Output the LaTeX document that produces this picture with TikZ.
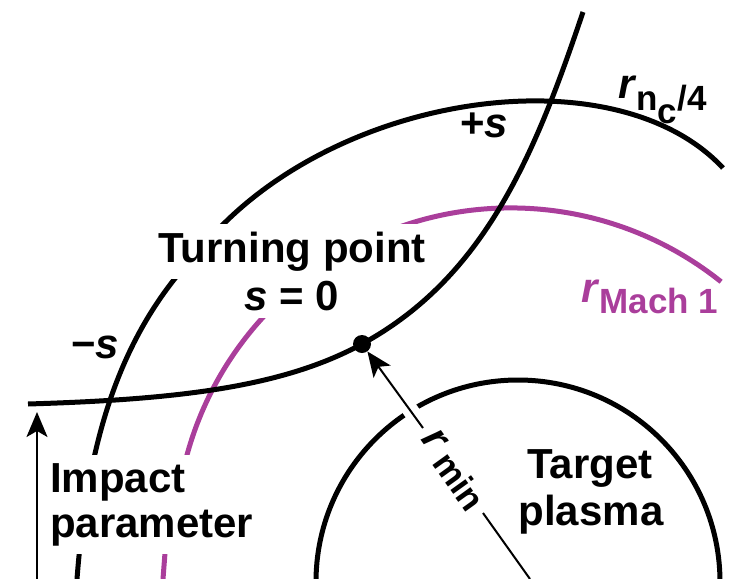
\documentclass[tikz,border=0pt]{standalone}
\usepackage{fontspec}
\setmainfont{Liberation Sans}
\usetikzlibrary{arrows.meta}
\definecolor{machpurple}{RGB}{170,62,155}
\newcommand{\bigfont}{\fontsize{42}{46}\selectfont\bfseries}
\newcommand{\subfont}{\fontsize{35}{38}\selectfont\bfseries}

\begin{document}
\begin{tikzpicture}[x=1pt, y=-1pt,
  every node/.style={font=\bigfont, inner sep=0pt},
  curve/.style={line width=5pt},
  machcurve/.style={line width=5pt, machpurple},
  knockout/.style={fill=white, inner sep=8pt},
  thinarrow/.style={line width=2pt, -{Stealth[length=25pt,width=21pt,inset=6pt]}},
  turndot/.style={circle, fill, minimum size=18pt}]
  \useasboundingbox (0,0) rectangle (732,579);
  \clip (0,0) rectangle (732,579);

  % target plasma
  \draw[curve] (518,582) circle[radius=202];

  % r_nc/4 surface
  \draw[curve] (77,579) .. controls (87,449) and (116,336) .. (200,250)
    .. controls (326,94) and (613,50) .. (723,168);

  % Mach 1 surface
  \draw[machcurve] (163,579) -- (166,540) -- (178.3,497.2)
    arc[start angle=188, end angle=308.7, radius=336];

  % ray path
  \draw[curve] (28,404) .. controls (178,399.5) and (282.8,387.2) .. (362,344)
    .. controls (485,277) and (535,154.5) .. (583,12);

  % coordinates
  \node[turndot] (turn) at (362,344) {};
  \coordinate (rminfoot) at (530,579);
  \coordinate (rminlow) at (483,513);
  \coordinate (rminhigh) at (423,428);
  \coordinate (gapa) at (418,421);
  \coordinate (gapb) at (404,401);
  \coordinate (impbase) at (37,579);
  \coordinate (imptop) at (37,412);

  % r_min radius
  \draw[white, line width=16pt] (gapa) -- (gapb);
  \draw[line width=2pt] (rminfoot) -- (rminlow);
  \draw[thinarrow] (rminhigh) -- (turn);

  % impact parameter
  \draw[thinarrow] (impbase) -- (imptop);

  % labels
  \node[anchor=base] (plus) at (484,137) {+\textit{s}};
  \node[anchor=base] (minus) at (95,358) {−\textit{s}};
  \node[knockout, anchor=base] (turning) at (292,262) {Turning point};
  \node[knockout, anchor=base] (szero) at (292,310) {\textit{s} = 0};
  \node[knockout, anchor=base west] (impact) at (42,492) {Impact};
  \node[knockout, anchor=base west] (param) at (42,537) {parameter};
  \node[anchor=base] (target) at (590,478) {Target};
  \node[anchor=base] (plasma) at (591,525) {plasma};
  \node[anchor=base west] (rnc) at (618,98) {\textit{r}\raisebox{-12pt}{\subfont n\raisebox{-13pt}{c}/4}};
  \node[anchor=base west, machpurple] (rmach) at (581,302) {\textit{r}\raisebox{-11pt}{\subfont Mach 1}};
  \node[rotate=-54.3] (rmin) at (453,470) {\textit{r}\,\raisebox{-5pt}{\subfont min}};
\end{tikzpicture}
\end{document}
